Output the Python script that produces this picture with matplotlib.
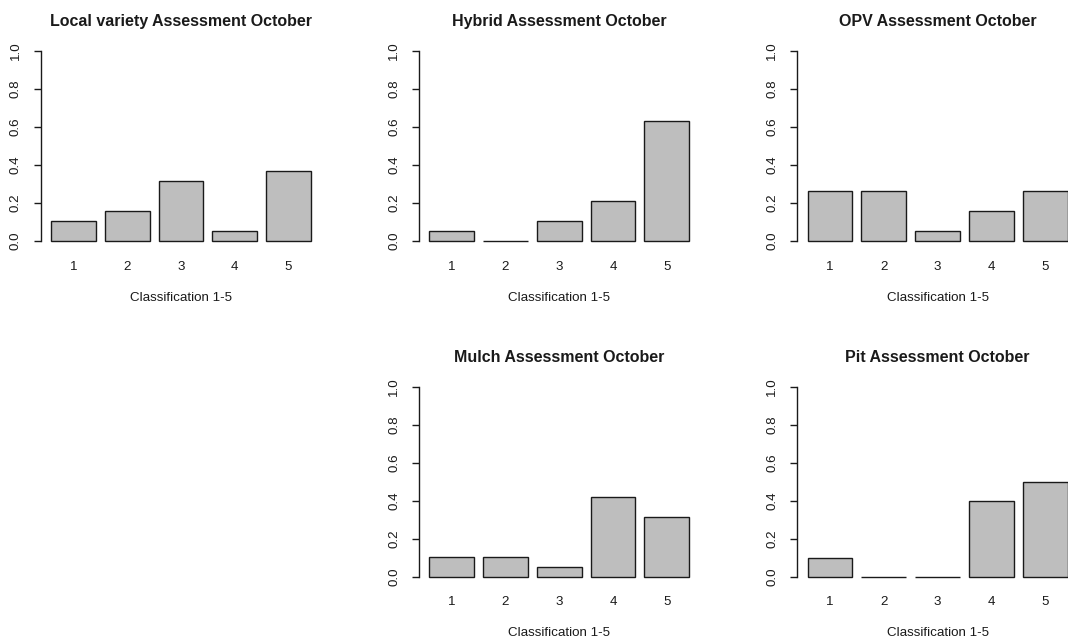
import numpy as np
import matplotlib
matplotlib.use("Agg")
import matplotlib.pyplot as plt

plt.rcParams['font.family'] = ['Liberation Sans', 'DejaVu Sans']

classes = ["1", "2", "3", "4", "5"]

local_variety = [0.105, 0.158, 0.316, 0.053, 0.368]
hybrid = [0.053, 0.0, 0.105, 0.211, 0.632]
opv = [0.263, 0.263, 0.053, 0.158, 0.263]
mulch = [0.105, 0.105, 0.053, 0.421, 0.316]
pit = [0.1, 0.0, 0.0, 0.4, 0.5]

panels = [
    ("Local variety Assessment October", local_variety, 0, 0),
    ("Hybrid Assessment October", hybrid, 0, 1),
    ("OPV Assessment October", opv, 0, 2),
    ("Mulch Assessment October", mulch, 1, 1),
    ("Pit Assessment October", pit, 1, 2),
]

W, H = 1068, 641
DPI = 100
fig = plt.figure(figsize=(W / DPI, H / DPI), dpi=DPI)

# plot-region geometry in pixels
col_left = [40.6, 419.0, 797.3]
row_top = [43.4, 379.1]
reg_w, reg_h = 280.6, 205.2
px2pt = 72.0 / DPI

base_pt = 13.4 * px2pt
title_pt = base_pt * 1.2
ink = "#1a1a1a"
lw = 1.0

bar_w, space = 1.0, 0.2
centers = np.arange(len(classes)) * (bar_w + space) + space + bar_w / 2
x_lo, x_hi = space, centers[-1] + bar_w / 2
ext = 0.04 * (x_hi - x_lo)

for title, vals, r, c in panels:
    left = col_left[c] / W
    bottom = 1 - (row_top[r] + reg_h) / H
    ax = fig.add_axes([left, bottom, reg_w / W, reg_h / H])
    ax.bar(centers, vals, width=bar_w, color="#BEBEBE", edgecolor=ink,
           linewidth=lw)
    ax.set_xlim(x_lo - ext, x_hi + ext)
    ax.set_ylim(-0.04, 1.04)
    for s in ("top", "right", "bottom"):
        ax.spines[s].set_visible(False)
    ax.spines["left"].set_bounds(0, 1)
    ax.spines["left"].set_linewidth(lw)
    ax.spines["left"].set_color(ink)
    ax.set_yticks([0, 0.2, 0.4, 0.6, 0.8, 1.0])
    ax.set_yticklabels(["0.0", "0.2", "0.4", "0.6", "0.8", "1.0"],
                       rotation=90, va="center", fontsize=base_pt, color=ink)
    ax.tick_params(axis="y", length=7 * px2pt, width=lw, color=ink,
                   pad=12 * px2pt)
    ax.set_xticks(centers)
    ax.set_xticklabels(classes, fontsize=base_pt, color=ink)
    ax.tick_params(axis="x", length=0, pad=12 * px2pt)
    ax.patch.set_visible(False)
    ax.annotate(title, xy=(0.5, 1), xycoords="axes fraction",
                xytext=(0, 21.7 * px2pt), textcoords="offset points",
                ha="center", va="center", fontsize=title_pt,
                fontweight="bold", color=ink)
    ax.annotate("Classification 1-5", xy=(0.5, 0), xycoords="axes fraction",
                xytext=(0, -49 * px2pt), textcoords="offset points",
                ha="center", va="center", fontsize=base_pt, color=ink)

fig.savefig("out.png", dpi=DPI)
